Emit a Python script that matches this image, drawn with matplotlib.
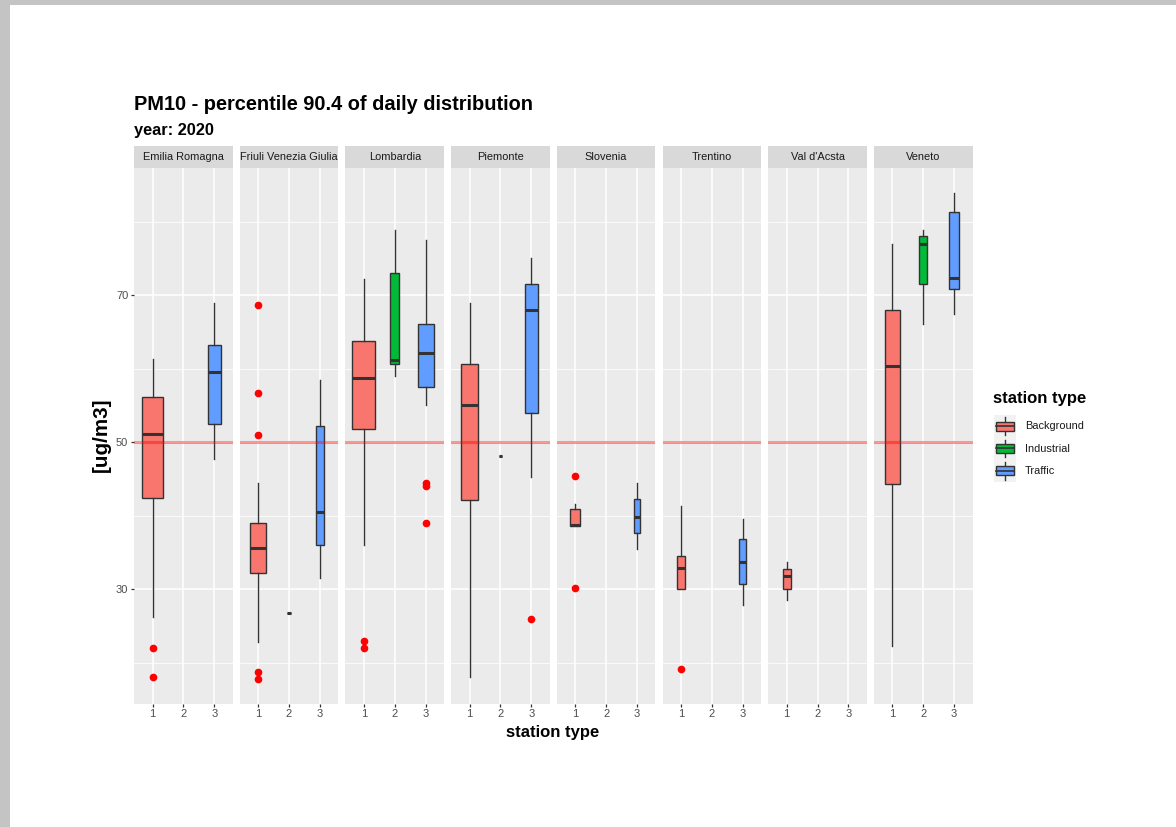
import matplotlib
matplotlib.use('Agg')
import matplotlib.pyplot as plt
from matplotlib.patches import Rectangle

plt.rcParams['font.family'] = ['Liberation Sans', 'DejaVu Sans']

# facets and station types
regions = ['Emilia Romagna', 'Friuli Venezia Giulia', 'Lombardia', 'Piemonte',
           'Slovenia', 'Trentino', "Val d'Acsta", 'Veneto']
types = ['Background', 'Industrial', 'Traffic']
type_colors = ['#F8766D', '#00BA38', '#619CFF']

# one entry per box (region index, station type 1..3)
box_region = [0, 0, 1, 1, 1, 2, 2, 2, 3, 3, 3, 4, 4, 5, 5, 6, 7, 7, 7]
box_type = [1, 3, 1, 2, 3, 1, 2, 3, 1, 2, 3, 1, 3, 1, 3, 1, 1, 2, 3]
box_n = [27, 11, 17, 1, 5, 36, 6, 17, 20, 1, 11, 7, 3, 5, 3, 4, 16, 4, 6]
box_lo = [26.3, 47.8, 22.8, 26.8, 31.5, 36.0, 59.0, 55.1, 18.1, 48.1, 45.3, 38.6, 35.5, 30.0, 27.9, 28.6, 22.3, 66.1, 67.4]
box_q1 = [42.5, 52.5, 32.3, 26.8, 36.1, 51.8, 60.7, 57.5, 42.1, 48.1, 54.0, 38.6, 37.7, 30.0, 30.8, 30.1, 44.3, 71.5, 70.9]
box_med = [51.2, 59.6, 35.7, 26.8, 40.6, 58.8, 61.2, 62.1, 55.1, 48.1, 68.0, 38.8, 39.9, 32.9, 33.8, 31.8, 60.4, 77.0, 72.3]
box_q3 = [56.1, 63.2, 39.1, 26.8, 52.2, 63.8, 73.0, 66.1, 60.7, 48.1, 71.5, 41.0, 42.3, 34.6, 36.8, 32.8, 68.0, 78.0, 81.3]
box_hi = [61.4, 68.9, 44.5, 26.8, 58.5, 72.2, 78.9, 77.5, 68.9, 48.1, 75.1, 41.6, 44.5, 41.4, 39.6, 33.7, 76.9, 78.9, 83.9]
box_out = [[22.0, 18.1], [], [68.7, 56.7, 51.0, 18.8, 17.8], [], [],
           [23.0, 22.0], [], [44.5, 44.1, 39.0], [], [], [26.0],
           [45.4, 30.2], [], [19.2], [], [], [], [], []]

limit_value = 50

W, H = 1176, 827
fig = plt.figure(figsize=(W / 100, H / 100), dpi=100)
fig.patch.set_facecolor('#c4c4c4')
fig.patches.append(Rectangle((10 / W, 0), 1, 1 - 5 / H, transform=fig.transFigure,
                             facecolor='white', edgecolor='none', zorder=-10))

# panel geometry in pixels
x0, pw, gap = 134, 98.7, 7.0
top, bot = 168, 703.5
strip_h = 22

axes = []
for i, name in enumerate(regions):
    ax = fig.add_axes([(x0 + i * (pw + gap)) / W, 1 - bot / H, pw / W, (bot - top) / H])
    ax.set_facecolor('#ebebeb')
    for s in ax.spines.values():
        s.set_visible(False)
    ax.set_xlim(0.4, 3.6)
    ax.set_ylim(14.5, 87.3)
    ax.set_xticks([1, 2, 3])
    ax.set_yticks([30, 50, 70])
    ax.set_yticks([20, 40, 60, 80], minor=True)
    ax.grid(True, which='major', color='white', linewidth=1.1)
    ax.grid(True, which='minor', axis='y', color='white', linewidth=0.55)
    ax.set_axisbelow(True)
    ax.tick_params(axis='both', which='major', colors='#333333', length=2.2, width=0.9,
                   labelsize=8, labelcolor='#4d4d4d', pad=2)
    ax.tick_params(axis='y', which='minor', length=0)
    if i > 0:
        ax.tick_params(axis='y', length=0, labelleft=False)
    # strip
    ax.add_patch(Rectangle((0, 1), 1, strip_h / (bot - top), transform=ax.transAxes,
                           facecolor='#d9d9d9', edgecolor='none', clip_on=False))
    ax.text(0.5, 1 + strip_h / 2 / (bot - top), name, transform=ax.transAxes,
            ha='center', va='center', fontsize=7.9, color='#1a1a1a')
    ax.axhline(limit_value, color='red', alpha=0.4, linewidth=2.2, zorder=5)
    axes.append(ax)

nmax = max(box_n)
for k in range(len(box_region)):
    ax = axes[box_region[k]]
    t = box_type[k]
    stats = [dict(med=box_med[k], q1=box_q1[k], q3=box_q3[k], whislo=box_lo[k],
                  whishi=box_hi[k], fliers=box_out[k])]
    width = 0.75 * (box_n[k] / nmax) ** 0.5
    ax.bxp(stats, positions=[t], widths=[width], patch_artist=True, showcaps=False,
           boxprops=dict(facecolor=type_colors[t - 1], edgecolor='#333333', linewidth=1.0),
           medianprops=dict(color='#333333', linewidth=2.2),
           whiskerprops=dict(color='#333333', linewidth=1.0),
           flierprops=dict(marker='o', markerfacecolor='red', markeredgecolor='red',
                           markersize=4.5, linestyle='none'),
           manage_ticks=False)

# titles and axis labels
fig.text(134 / W, 1 - 110 / H, 'PM10 - percentile 90.4 of daily distribution',
         fontsize=14.4, fontweight='bold', va='baseline')
fig.text(134 / W, 1 - 135 / H, 'year: 2020', fontsize=11.8, fontweight='bold', va='baseline')
fig.text(553 / W, 1 - 733 / H, 'station type', fontsize=12, fontweight='bold',
         ha='center', va='center')
fig.text(101 / W, 1 - 435 / H, '[ug/m3]', fontsize=14.9, fontweight='bold',
         rotation=90, ha='center', va='center')

# legend
fig.text(993 / W, 1 - 403 / H, 'station type', fontsize=12, fontweight='bold', va='baseline')
lg = fig.add_axes([994 / W, 1 - 482 / H, 22 / W, 67 / H])
lg.set_xlim(0, 1)
lg.set_ylim(3, 0)
lg.axis('off')
lg.add_patch(Rectangle((0, 0), 1, 3, facecolor='#f2f2f2', edgecolor='none'))
for j, (name, col) in enumerate(zip(types, type_colors)):
    lg.plot([0.5, 0.5], [j + 0.1, j + 0.9], color='#333333', linewidth=1.0)
    lg.add_patch(Rectangle((0.1, j + 0.3), 0.8, 0.4, facecolor=col, edgecolor='#333333',
                           linewidth=1.0, zorder=3))
    lg.plot([0.1, 0.9], [j + 0.5, j + 0.5], color='#333333', linewidth=1.2, zorder=4)
    fig.text(1025 / W, 1 - (426 + j * 22.5) / H, name, fontsize=7.9, va='center',
             color='#1a1a1a')

fig.savefig('out.png', dpi=100)
